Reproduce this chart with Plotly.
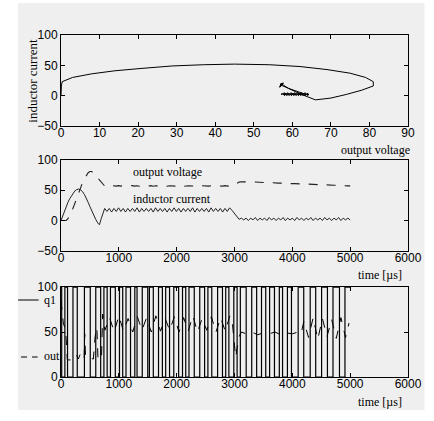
import plotly.graph_objects as go

# ---------------- data ----------------
# start-up transient (time in us)
t_start = [0, 30, 60, 90, 120, 150, 180, 210, 240, 270, 300, 335, 370, 405, 440, 470,
           500, 530, 565, 600, 635, 665, 695, 725, 755]
i_start = [0, 8, 16, 23, 30, 36, 41, 45, 49, 51, 52, 51, 48, 43, 37, 30,
           23, 16, 9, 2, -4, -7, 3, 12, 20]
v_start = [0, 0, 0.1, 0.3, 3, 8, 14, 21, 29, 37, 45, 54, 62, 69, 75, 79,
           81, 81, 78, 74, 70, 66, 62, 59, 57]

# steady state with ripple
t_steady = [795, 835, 875, 915, 955, 995, 1035, 1075, 1115, 1155, 1195, 1235, 1275, 1315,
            1355, 1395, 1435, 1475, 1515, 1555, 1595, 1635, 1675, 1715, 1755, 1795, 1835,
            1875, 1915, 1955, 1995, 2035, 2075, 2115, 2155, 2195, 2235, 2275, 2315, 2355,
            2395, 2435, 2475, 2515, 2555, 2595, 2635, 2675, 2715, 2755, 2795, 2835, 2875,
            2915, 2955]
i_steady = [15, 20, 14, 20, 15, 21, 15, 20, 14, 20, 15, 20, 15, 21, 14, 20, 15, 20, 15, 20,
            14, 21, 15, 20, 15, 20, 14, 20, 15, 21, 15, 20, 14, 20, 15, 20, 15, 21, 14, 20,
            15, 20, 15, 20, 14, 21, 15, 20, 15, 20, 14, 20, 15, 21, 17]
v_steady = [56.8, 57.4, 56.7, 57.5, 56.8, 57.6, 56.9, 57.5, 56.8, 57.4, 56.9, 57.6, 56.8,
            57.5, 56.7, 57.4, 56.9, 57.5, 56.8, 57.6, 56.7, 57.5, 56.9, 57.4, 56.8, 57.6,
            56.7, 57.5, 56.9, 57.4, 56.8, 57.6, 56.8, 57.5, 56.7, 57.4, 56.9, 57.6, 56.8,
            57.5, 56.7, 57.4, 56.9, 57.5, 56.8, 57.6, 56.7, 57.5, 56.9, 57.4, 56.8, 57.6,
            56.8, 57.5, 57.2]

# load step and second steady state
t_late = [3000, 3040, 3080, 3120, 3160, 3200, 3240, 3280, 3320, 3360, 3400, 3440, 3480,
          3520, 3560, 3600, 3640, 3680, 3720, 3760, 3800, 3840, 3880, 3920, 3960, 4000,
          4040, 4080, 4120, 4160, 4200, 4240, 4280, 4320, 4360, 4400, 4440, 4480, 4520,
          4560, 4600, 4640, 4680, 4720, 4760, 4800, 4840, 4880, 4920, 4960, 5000]
i_late = [12, 6, 2, 4, 1, 4, 0, 4, 1, 5, 0, 4, 1, 4, 0, 5, 1, 4, 0, 4, 1, 5, 0, 4, 1, 4,
          0, 5, 1, 4, 0, 4, 1, 5, 0, 4, 1, 4, 0, 5, 1, 4, 0, 4, 1, 5, 0, 4, 1, 4, 1]
v_late = [59, 62, 63.5, 64, 64.2, 63.9, 64.0, 63.6, 63.7, 63.3, 63.4, 63.0, 63.1, 62.7,
          62.8, 62.4, 62.5, 62.1, 62.2, 61.8, 61.9, 61.5, 61.6, 61.2, 61.3, 60.9, 61.0,
          60.6, 60.7, 60.3, 60.4, 60.0, 60.1, 59.7, 59.8, 59.4, 59.5, 59.1, 59.2, 58.8,
          58.9, 58.5, 58.6, 58.2, 58.3, 57.9, 58.0, 57.6, 57.7, 57.3, 57.2]

# switching instants of q1 (us)
q1_edges = [12, 67, 113, 207, 281, 405, 506, 601, 686, 742, 798, 855, 939, 1011, 1067,
            1124, 1202, 1276, 1315, 1405, 1500, 1529, 1596, 1686, 1753, 1810, 1877, 1950,
            2034, 2101, 2157, 2213, 2304, 2399, 2483, 2540, 2607, 2708, 2792, 2848, 2903,
            2988, 3045, 3101, 3202, 3298, 3383, 3467, 3540, 3607, 3691, 3775, 3831, 3915,
            3985, 4101, 4197, 4309, 4404, 4506, 4607, 4703, 4815, 4910]
q1_levels = [100, 0]

# "out" signal
t_out = [0, 40, 80, 100, 110, 240, 270, 300, 330, 370, 400, 410, 425, 560, 590, 620, 640,
         700, 720, 760, 840, 920, 1000, 1080, 1160, 1240, 1320, 1400, 1480, 1560, 1640,
         1720, 1800, 1880, 1960, 2040, 2120, 2200, 2280, 2360, 2440, 2520, 2600, 2680,
         2760, 2840, 2920, 2960, 3000, 3020, 3040, 3080, 3120, 3200, 3300, 3400, 3500,
         3600, 3700, 3800, 3900, 4000, 4100, 4150, 4200, 4280, 4360, 4440, 4520, 4600,
         4680, 4760, 4840, 4920, 4980]
v_out = [85, 60, 52, 30, 19, 19, 24, 20, 25, 19, 20, 48, 22, 20, 45, 55, 20,
         20, 70, 52, 66, 50, 68, 51, 65, 50, 67, 52, 66, 50, 68, 51, 65, 52, 67, 50, 66,
         51, 68, 50, 65, 52, 67, 50, 66, 51, 68, 62, 40, 22, 30, 45, 50, 48, 50, 47, 49,
         48, 50, 47, 49, 48, 50, 48, 62, 44, 66, 42, 65, 45, 64, 43, 66, 44, 60]

# ---------------- assemble series ----------------
t_all = t_start + t_steady + t_late
i_all = i_start + i_steady + i_late
v_all = v_start + v_steady + v_late

q1_t = [0]
q1_v = [q1_levels[0]]
state = 0
for e in q1_edges:
    q1_t += [e, e]
    q1_v += [q1_levels[state], q1_levels[1 - state]]
    state = 1 - state
q1_t.append(5000)
q1_v.append(q1_levels[state])

SERIF = "Liberation Serif, Times New Roman, serif"
TICKF = "Liberation Sans, Arial, sans-serif"
BG = "#efefef"

# pixel -> paper helpers (plot area: x 61..417, y 35..377)
def px(x):
    return (x - 61) / 356


def py(y):
    return (377 - y) / 342


fig = go.Figure()
# top: phase plane
fig.add_trace(go.Scatter(x=v_all, y=i_all, mode="lines", line=dict(color="black", width=1),
                         xaxis="x", yaxis="y", showlegend=False))
# middle: time series
fig.add_trace(go.Scatter(x=t_all, y=v_all, mode="lines",
                         line=dict(color="#222", width=1.1, dash="dash"),
                         xaxis="x2", yaxis="y2", showlegend=False))
fig.add_trace(go.Scatter(x=t_all, y=i_all, mode="lines", line=dict(color="#222", width=1),
                         xaxis="x2", yaxis="y2", showlegend=False))
# bottom: digital signals
fig.add_trace(go.Scatter(x=q1_t, y=q1_v, mode="lines", name="q1",
                         line=dict(color="black", width=1.2),
                         xaxis="x3", yaxis="y3", showlegend=False))
fig.add_trace(go.Scatter(x=t_out, y=v_out, mode="lines", name="out",
                         line=dict(color="black", width=1, dash="dash"),
                         xaxis="x3", yaxis="y3", showlegend=False))

axis_common = dict(showline=True, linecolor="black", linewidth=1, mirror="ticks",
                   ticks="inside", ticklen=4, tickcolor="black", showgrid=False,
                   zeroline=False, tickfont=dict(family=TICKF, size=12, color="black"))
xstand = dict(ticklabelstandoff=-4)

fig.update_layout(
    width=434, height=421,
    margin=dict(l=61, r=17, t=35, b=44),
    paper_bgcolor="white", plot_bgcolor=BG,
    xaxis=dict(axis_common, **xstand, domain=[0, 1], range=[0, 90], tickvals=list(range(0, 91, 10)), anchor="y"),
    yaxis=dict(axis_common, domain=[0.734, 1], range=[-50, 100], tickvals=[-50, 0, 50, 100], anchor="x"),
    xaxis2=dict(axis_common, **xstand, domain=[0, 1], range=[0, 6000], tickvals=[0, 1000, 2000, 3000, 4000, 5000, 6000], anchor="y2"),
    yaxis2=dict(axis_common, domain=[0.369, 0.6345], range=[-50, 100], tickvals=[-50, 0, 50, 100], anchor="x2"),
    xaxis3=dict(axis_common, **xstand, domain=[0, 1], range=[0, 6000], tickvals=[0, 1000, 2000, 3000, 4000, 5000, 6000], anchor="y3"),
    yaxis3=dict(axis_common, domain=[0, 0.263], range=[0, 100], tickvals=[0, 50, 100], anchor="x3"),
    showlegend=False,
    shapes=[
        dict(type="rect", xref="paper", yref="paper", layer="below",
             x0=px(17), x1=px(434), y0=py(410), y1=py(3),
             fillcolor=BG, line=dict(width=0)),
        # legend glyphs
        dict(type="line", xref="paper", yref="paper", x0=px(17), x1=px(38), y0=py(300), y1=py(300),
             line=dict(color="black", width=1)),
        dict(type="line", xref="paper", yref="paper", x0=px(20), x1=px(37), y0=py(357), y1=py(357),
             line=dict(color="black", width=1, dash="6px,5px")),
    ],
    annotations=[
        dict(text="output voltage", xref="x domain", yref="y domain", x=1, y=0,
             xanchor="right", yanchor="top", xshift=4, yshift=-15, showarrow=False,
             font=dict(family=SERIF, size=12, color="black")),
        dict(text="time [µs]", xref="x2 domain", yref="y2 domain", x=1, y=0,
             xanchor="right", yanchor="top", xshift=-4, yshift=-15, showarrow=False,
             font=dict(family=SERIF, size=12, color="black")),
        dict(text="time [µs]", xref="x3 domain", yref="y3 domain", x=1, y=0,
             xanchor="right", yanchor="top", xshift=-4, yshift=-16, showarrow=False,
             font=dict(family=SERIF, size=12, color="black")),
        dict(text="inductor current", xref="paper", yref="y domain", x=px(31.5), y=0.5,
             textangle=-90, xanchor="center", yanchor="middle", showarrow=False,
             font=dict(family=SERIF, size=13, color="black")),
        dict(text="output voltage", xref="x2", yref="y2", x=1840, y=80, showarrow=False,
             font=dict(family=SERIF, size=12, color="black")),
        dict(text="inductor current", xref="x2", yref="y2", x=1920, y=35, showarrow=False,
             font=dict(family=SERIF, size=12, color="black")),
        # legend labels
        dict(text="q1", xref="paper", yref="paper", x=px(42), y=py(300), xanchor="left",
             yanchor="middle", showarrow=False, font=dict(family=SERIF, size=12, color="black")),
        dict(text="out", xref="paper", yref="paper", x=px(41), y=py(356), xanchor="left",
             yanchor="middle", showarrow=False, font=dict(family=SERIF, size=12, color="black")),
    ],
)

fig.write_html("out.html")
